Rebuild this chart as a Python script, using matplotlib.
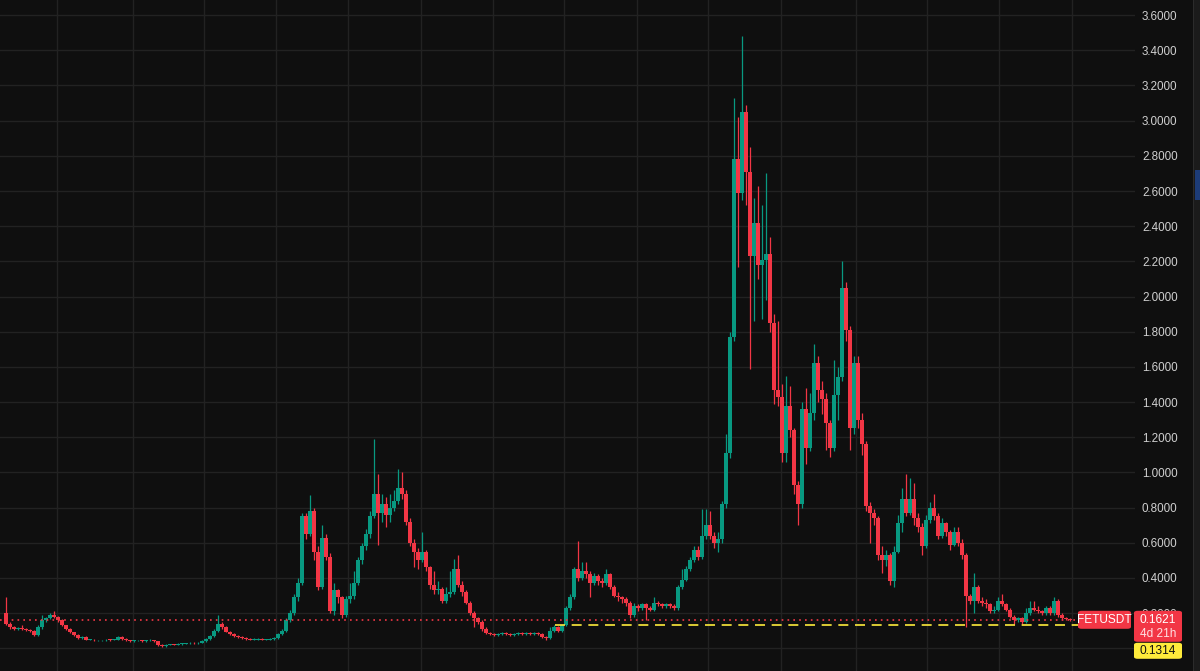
import matplotlib
matplotlib.use("Agg")
import matplotlib.pyplot as plt
from matplotlib.patches import Rectangle, FancyBboxPatch
import numpy as np

# FETUSDT candles (open = previous close)
first_open = 0.20
closes = [
    0.14, 0.12, 0.11, 0.115, 0.11, 0.105, 0.10, 0.075, 0.12, 0.16,
    0.17, 0.19, 0.18, 0.16, 0.13, 0.11, 0.09, 0.075, 0.06, 0.065,
    0.05, 0.05, 0.045, 0.045, 0.045, 0.05, 0.048, 0.05, 0.066, 0.055,
    0.045, 0.042, 0.045, 0.045, 0.042, 0.045, 0.048, 0.04, 0.02, 0.015,
    0.02, 0.022, 0.02, 0.025, 0.025, 0.028, 0.03, 0.028, 0.032, 0.04,
    0.055, 0.07, 0.10, 0.14, 0.12, 0.095, 0.08, 0.07, 0.065, 0.06,
    0.055, 0.05, 0.05, 0.055, 0.05, 0.05, 0.055, 0.06, 0.08, 0.10,
    0.16, 0.20, 0.29, 0.37, 0.75, 0.65, 0.78, 0.55, 0.35, 0.63,
    0.52, 0.21, 0.33, 0.29, 0.19, 0.28, 0.30, 0.37, 0.50, 0.58,
    0.65, 0.75, 0.88, 0.77, 0.82, 0.76, 0.80, 0.84, 0.91, 0.88,
    0.72, 0.60, 0.55, 0.50, 0.55, 0.46, 0.36, 0.33, 0.34, 0.27,
    0.31, 0.32, 0.45, 0.36, 0.32, 0.26, 0.20, 0.17, 0.15, 0.11,
    0.085, 0.08, 0.075, 0.08, 0.085, 0.08, 0.075, 0.08, 0.085, 0.08,
    0.085, 0.08, 0.085, 0.08, 0.065, 0.06, 0.10, 0.12, 0.10, 0.13,
    0.23, 0.29, 0.45, 0.40, 0.44, 0.42, 0.37, 0.41, 0.38, 0.37,
    0.42, 0.35, 0.30, 0.29, 0.28, 0.26, 0.19, 0.24, 0.23, 0.25,
    0.23, 0.22, 0.26, 0.25, 0.24, 0.25, 0.24, 0.23, 0.35, 0.39,
    0.45, 0.50, 0.56, 0.52, 0.64, 0.70, 0.64, 0.60, 0.62, 0.82,
    1.11, 1.77, 2.78, 2.59, 3.05, 2.71, 2.23, 2.42, 2.18, 2.21,
    2.24, 1.85, 1.47, 1.43, 1.11, 1.38, 1.24, 0.93, 0.82, 1.36,
    1.14, 1.34, 1.62, 1.47, 1.42, 1.28, 1.14, 1.44, 1.54, 2.05,
    1.81, 1.25, 1.62, 1.30, 1.16, 0.81, 0.77, 0.74, 0.53, 0.50,
    0.53, 0.38, 0.55, 0.71, 0.85, 0.77, 0.85, 0.74, 0.69, 0.58,
    0.73, 0.80, 0.75, 0.64, 0.71, 0.66, 0.59, 0.66, 0.60, 0.53,
    0.30, 0.27, 0.35, 0.27, 0.26, 0.25, 0.21, 0.22, 0.27, 0.25,
    0.22, 0.18, 0.16, 0.17, 0.15, 0.20, 0.23, 0.22, 0.21, 0.20,
    0.23, 0.20, 0.27, 0.19, 0.17, 0.165, 0.1621,
]
highs = [
    0.29, 0.15, 0.125, 0.12, 0.13, 0.115, 0.11, 0.105, 0.13, 0.19,
    0.18, 0.20, 0.21, 0.185, 0.165, 0.135, 0.115, 0.095, 0.08, 0.07,
    0.07, 0.055, 0.055, 0.05, 0.05, 0.055, 0.055, 0.055, 0.072, 0.07,
    0.058, 0.05, 0.05, 0.05, 0.05, 0.05, 0.052, 0.05, 0.042, 0.025,
    0.025, 0.027, 0.026, 0.03, 0.03, 0.032, 0.035, 0.034, 0.037, 0.045,
    0.06, 0.075, 0.11, 0.19, 0.15, 0.125, 0.10, 0.085, 0.075, 0.07,
    0.065, 0.06, 0.056, 0.06, 0.06, 0.055, 0.06, 0.065, 0.085, 0.11,
    0.17, 0.22, 0.31, 0.40, 0.77, 0.77, 0.87, 0.80, 0.58, 0.70,
    0.65, 0.54, 0.37, 0.34, 0.30, 0.30, 0.37, 0.44, 0.52, 0.60,
    0.68, 0.78, 1.19, 0.99, 0.88, 0.86, 0.88, 0.90, 1.02, 1.00,
    0.90, 0.74, 0.62, 0.57, 0.66, 0.56, 0.47, 0.44, 0.38, 0.35,
    0.35, 0.44, 0.51, 0.53, 0.38, 0.33, 0.27, 0.21, 0.18, 0.16,
    0.12, 0.09, 0.085, 0.085, 0.09, 0.09, 0.085, 0.085, 0.095, 0.09,
    0.09, 0.09, 0.09, 0.09, 0.085, 0.07, 0.12, 0.13, 0.125, 0.135,
    0.24, 0.31, 0.46, 0.61, 0.49, 0.49, 0.44, 0.43, 0.42, 0.40,
    0.45, 0.43, 0.36, 0.32, 0.30, 0.29, 0.27, 0.26, 0.25, 0.26,
    0.26, 0.24, 0.29, 0.27, 0.26, 0.26, 0.26, 0.25, 0.36, 0.45,
    0.47, 0.52, 0.58, 0.58, 0.79, 0.79, 0.78, 0.66, 0.66, 0.84,
    1.22, 1.80, 3.13, 3.02, 3.48, 3.09, 2.85, 2.56, 2.63, 2.52,
    2.70, 2.34, 1.90, 1.86, 1.50, 1.55, 1.49, 1.25, 0.95, 1.40,
    1.48, 1.45, 1.73, 1.66, 1.52, 1.45, 1.30, 1.64, 1.60, 2.20,
    2.08, 1.83, 1.66, 1.66, 1.34, 1.18, 0.83, 0.79, 0.75, 0.58,
    0.56, 0.54, 0.58, 0.76, 0.91, 0.99, 0.97, 0.94, 0.77, 0.71,
    0.76, 0.83, 0.88, 0.77, 0.74, 0.72, 0.67, 0.69, 0.69, 0.62,
    0.54, 0.31, 0.43, 0.36, 0.29, 0.28, 0.26, 0.24, 0.29, 0.31,
    0.26, 0.23, 0.19, 0.18, 0.18, 0.23, 0.27, 0.27, 0.24, 0.22,
    0.24, 0.24, 0.29, 0.28, 0.20, 0.18, 0.17,
]
lows = [
    0.13, 0.11, 0.105, 0.105, 0.105, 0.10, 0.095, 0.07, 0.07, 0.11,
    0.15, 0.165, 0.17, 0.15, 0.125, 0.105, 0.085, 0.07, 0.055, 0.055,
    0.045, 0.045, 0.04, 0.04, 0.04, 0.04, 0.043, 0.045, 0.048, 0.05,
    0.04, 0.038, 0.038, 0.04, 0.038, 0.038, 0.042, 0.035, 0.015, 0.01,
    0.01, 0.017, 0.016, 0.017, 0.02, 0.022, 0.024, 0.024, 0.025, 0.03,
    0.038, 0.05, 0.065, 0.095, 0.11, 0.09, 0.075, 0.065, 0.06, 0.055,
    0.05, 0.045, 0.045, 0.045, 0.045, 0.045, 0.046, 0.05, 0.055, 0.075,
    0.095, 0.15, 0.19, 0.27, 0.36, 0.62, 0.64, 0.50, 0.33, 0.34,
    0.50, 0.20, 0.19, 0.26, 0.17, 0.18, 0.26, 0.28, 0.36, 0.48,
    0.56, 0.63, 0.74, 0.59, 0.72, 0.69, 0.72, 0.78, 0.82, 0.85,
    0.70, 0.58, 0.46, 0.45, 0.49, 0.44, 0.34, 0.31, 0.31, 0.26,
    0.26, 0.29, 0.31, 0.35, 0.30, 0.25, 0.19, 0.12, 0.14, 0.10,
    0.08, 0.075, 0.07, 0.07, 0.075, 0.075, 0.07, 0.07, 0.075, 0.075,
    0.075, 0.075, 0.075, 0.075, 0.06, 0.05, 0.055, 0.095, 0.095, 0.095,
    0.125, 0.22, 0.28, 0.38, 0.39, 0.40, 0.29, 0.36, 0.36, 0.35,
    0.36, 0.34, 0.29, 0.27, 0.26, 0.24, 0.17, 0.18, 0.21, 0.22,
    0.16, 0.21, 0.21, 0.24, 0.23, 0.23, 0.23, 0.22, 0.22, 0.34,
    0.38, 0.44, 0.49, 0.50, 0.51, 0.62, 0.62, 0.57, 0.55, 0.60,
    0.80, 1.08, 1.75, 2.17, 2.55, 2.52, 1.59, 1.86, 2.10, 1.87,
    1.98, 1.80, 1.39, 1.38, 1.06, 1.06, 1.20, 0.88, 0.70, 0.80,
    1.05, 1.12, 1.30, 1.40, 1.33, 1.13, 1.09, 1.12, 1.30, 1.52,
    1.75, 1.13, 1.22, 1.25, 1.10, 0.78, 0.60, 0.70, 0.50, 0.43,
    0.47, 0.36, 0.35, 0.54, 0.66, 0.75, 0.76, 0.70, 0.66, 0.53,
    0.57, 0.71, 0.73, 0.62, 0.63, 0.64, 0.56, 0.58, 0.58, 0.51,
    0.12, 0.25, 0.20, 0.26, 0.24, 0.23, 0.20, 0.20, 0.21, 0.24,
    0.21, 0.17, 0.14, 0.15, 0.14, 0.145, 0.19, 0.21, 0.20, 0.19,
    0.19, 0.19, 0.19, 0.18, 0.16, 0.16, 0.155,
]

price_ticks = [0.0, 0.2, 0.4, 0.6, 0.8, 1.0, 1.2, 1.4, 1.6, 1.8,
               2.0, 2.2, 2.4, 2.6, 2.8, 3.0, 3.2, 3.4, 3.6]
# candle index where the monthly gridlines fall
month_lines = [12.8, 31.7, 49.5, 67.6, 85.6, 103.7, 121.7, 139.6, 157.7,
               175.6, 193.75, 212.5, 230.25, 248.25, 266.5]
symbol = "FETUSDT"
last_price = 0.1621
countdown = "4d 21h"
line_price = 0.1314
line_start = 137.3   # candle index where the dashed line begins

BG = "#0f0f0f"
GRID = "#222222"
UP = "#089981"
DOWN = "#f23645"
YELLOW = "#ffeb3b"

plt.rcParams['font.family'] = ['Liberation Sans', 'DejaVu Sans']

W, H = 1200, 671
fig = plt.figure(figsize=(W / 100, H / 100), dpi=100, facecolor=BG)
ax = fig.add_axes([0, 0, 1135 / W, 1])
ax.set_facecolor(BG)

o = np.array([first_open] + closes[:-1])
c = np.array(closes)
hi = np.array(highs)
lo = np.array(lows)
idx = np.arange(len(c))
cols = np.where(c >= o, UP, DOWN)

ax.vlines(idx, lo, hi, colors=cols, linewidth=0.9, zorder=3)
body = np.maximum(np.abs(c - o), 0.005)
ax.bar(idx, body, bottom=np.minimum(o, c), width=0.88, color=cols,
       linewidth=0, zorder=4)

ax.set_xlim(-1.5, 282.25)
ax.set_ylim(-0.129, 3.686)

# price lines
ax.hlines(last_price, -1.5, 268, colors=DOWN, linestyles=(0, (1, 2.5)),
          linewidth=1.2, zorder=5)
ax.hlines(line_price, line_start, 268, colors=YELLOW,
          linestyles=(0, (6, 4)), linewidth=1.2, zorder=5)

ax.set_xticks(month_lines)
ax.set_yticks(price_ticks)
ax.set_yticklabels([f"{p:.4f}" for p in price_ticks])
ax.yaxis.tick_right()
ax.tick_params(axis='y', length=0, pad=5, labelsize=8.4, labelcolor="#cfcfcf")
ax.tick_params(axis='x', length=0, labelbottom=False)
ax.grid(True, color=GRID, linewidth=1)
ax.set_axisbelow(True)
for s in ax.spines.values():
    s.set_visible(False)
for lab in ax.get_yticklabels():
    lab.set_horizontalalignment('left')
    lab.set_clip_on(False)

# right-hand strip of the window
fig.patches.append(Rectangle((1193 / W, 0), 7 / W, 1, transform=fig.transFigure,
                             facecolor="#1b1b1b", edgecolor="none", zorder=1))
fig.patches.append(Rectangle((1193 / W, 0), 1 / W, 1, transform=fig.transFigure,
                             facecolor="#2b2b2b", edgecolor="none", zorder=1))
fig.patches.append(Rectangle((1195 / W, 1 - 200 / H), 5 / W, 30 / H,
                             transform=fig.transFigure, facecolor="#1d3c78",
                             edgecolor="none", zorder=1))

# price labels on the axis
fig.canvas.draw()
y_last = ax.transData.transform((0, last_price))[1]   # display px from bottom


def box(x0, y0, w, h, color):
    fig.patches.append(FancyBboxPatch((x0 / W, y0 / H), w / W, h / H,
                                      boxstyle="round,pad=0,rounding_size=0.003",
                                      transform=fig.transFigure, facecolor=color,
                                      edgecolor="none", zorder=5))


box(1078, y_last - 9, 53, 18, DOWN)
fig.text(1104.5 / W, y_last / H, symbol, color="white", fontsize=8.6,
         ha="center", va="center", zorder=6)
box(1134, y_last - 22, 48, 31, DOWN)
fig.text(1158 / W, y_last / H, f"{last_price:.4f}", color="white", fontsize=8.6,
         ha="center", va="center", zorder=6)
fig.text(1158 / W, (y_last - 14) / H, countdown, color="#ffe0e3", fontsize=8.6,
         ha="center", va="center", zorder=6)
box(1134, y_last - 39, 48, 16, YELLOW)
fig.text(1158 / W, (y_last - 31) / H, f"{line_price:.4f}", color="#111111",
         fontsize=8.6, ha="center", va="center", zorder=6)

fig.savefig("out.png", dpi=100, facecolor=BG)
